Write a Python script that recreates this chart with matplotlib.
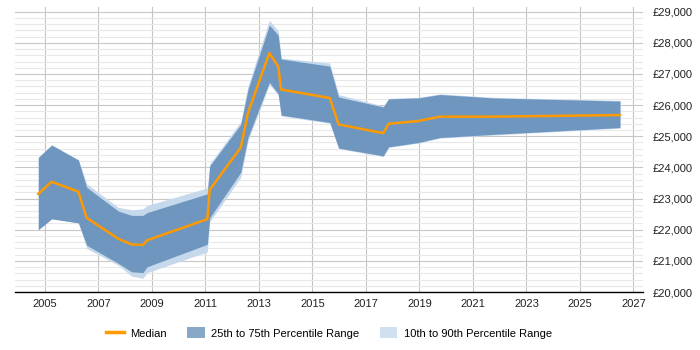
import matplotlib.pyplot as plt
from matplotlib.ticker import FuncFormatter, MultipleLocator, FixedLocator
from matplotlib.patches import Patch
from matplotlib.lines import Line2D

plt.rcParams['font.family'] = ['Liberation Sans', 'DejaVu Sans']

# Datos
years = [2004.75, 2005.25, 2006.25, 2006.56, 2007.74, 2008.24, 2008.66, 2008.82,
         2011.07, 2011.16, 2012.32, 2012.59, 2013.39, 2013.72, 2013.83, 2015.65,
         2015.98, 2017.65, 2017.85, 2018.96, 2019.77, 2021.76, 2026.5]
median = [23150, 23540, 23220, 22380, 21710, 21530, 21510, 21660,
          22340, 23280, 24640, 25750, 27670, 27245, 26500, 26230,
          25380, 25100, 25400, 25490, 25630, 25630, 25680]
p25 = [22000, 22350, 22220, 21500, 20920, 20650, 20620, 20810,
       21530, 22380, 23840, 24960, 26730, 26360, 25680, 25440,
       24620, 24370, 24660, 24800, 24960, 25060, 25280]
p75 = [24320, 24720, 24240, 23360, 22600, 22460, 22460, 22550,
       23150, 24050, 25380, 26500, 28570, 28250, 27480, 27250,
       26260, 25940, 26200, 26230, 26340, 26230, 26130]
p10 = [22000, 22350, 22220, 21400, 20860, 20510, 20440, 20620,
       21290, 22250, 23680, 24850, 26660, 26330, 25650, 25420,
       24600, 24350, 24640, 24780, 24940, 25040, 25260]
p90 = [24320, 24720, 24240, 23470, 22720, 22640, 22670, 22780,
       23340, 24110, 25470, 26610, 28730, 28380, 27510, 27350,
       26340, 25970, 26220, 26250, 26360, 26250, 26150]
year_ticks = list(range(2005, 2028, 2))

fig = plt.figure(figsize=(7, 3.5), dpi=100)
ax = fig.add_axes([15 / 700, 1 - 292 / 350, 628 / 700, 285 / 350])

ax.fill_between(years, p10, p90, color='#c6d9ec', linewidth=0, zorder=2)
ax.fill_between(years, p25, p75, color='#6f96bf', linewidth=0, zorder=3)
ax.plot(years, median, color='#ff9900', linewidth=1.8, zorder=4)

ax.set_xlim(2003.88, 2027.36)
ax.set_ylim(20000, 29150)
ax.xaxis.set_major_locator(FixedLocator(year_ticks))
ax.yaxis.set_major_locator(MultipleLocator(1000))
ax.yaxis.set_minor_locator(MultipleLocator(200))
ax.yaxis.set_major_formatter(FuncFormatter(lambda v, p: f'£{int(v):,}'))
ax.yaxis.tick_right()

ax.grid(axis='x', which='major', color='#c4c4c4', linewidth=0.8, zorder=0)
ax.grid(axis='y', which='major', color='#c8c8c8', linewidth=0.8, zorder=0)
ax.grid(axis='y', which='minor', color='#e8e8e8', linewidth=0.8, zorder=0)
ax.set_axisbelow(True)

for s in ['top', 'left', 'right']:
    ax.spines[s].set_visible(False)
ax.spines['bottom'].set_color('black')
ax.spines['bottom'].set_linewidth(1)
ax.tick_params(axis='both', which='both', length=0, labelsize=8, colors='#222222')
ax.tick_params(axis='x', pad=5)
ax.tick_params(axis='y', pad=7)

handles = [Line2D([0], [0], color='#ff9900', linewidth=2.5),
           Patch(facecolor='#88a8c8', edgecolor='none'),
           Patch(facecolor='#cfe0f0', edgecolor='none')]
labels = ['Median', '25th to 75th Percentile Range', '10th to 90th Percentile Range']
fig.legend(handles, labels, loc='center', bbox_to_anchor=(329 / 700, 1 - 333 / 350),
           ncol=3, frameon=False, fontsize=8, handlelength=1.6, handleheight=1.1,
           columnspacing=1.8, handletextpad=0.6)

fig.savefig('out.png', dpi=100)
